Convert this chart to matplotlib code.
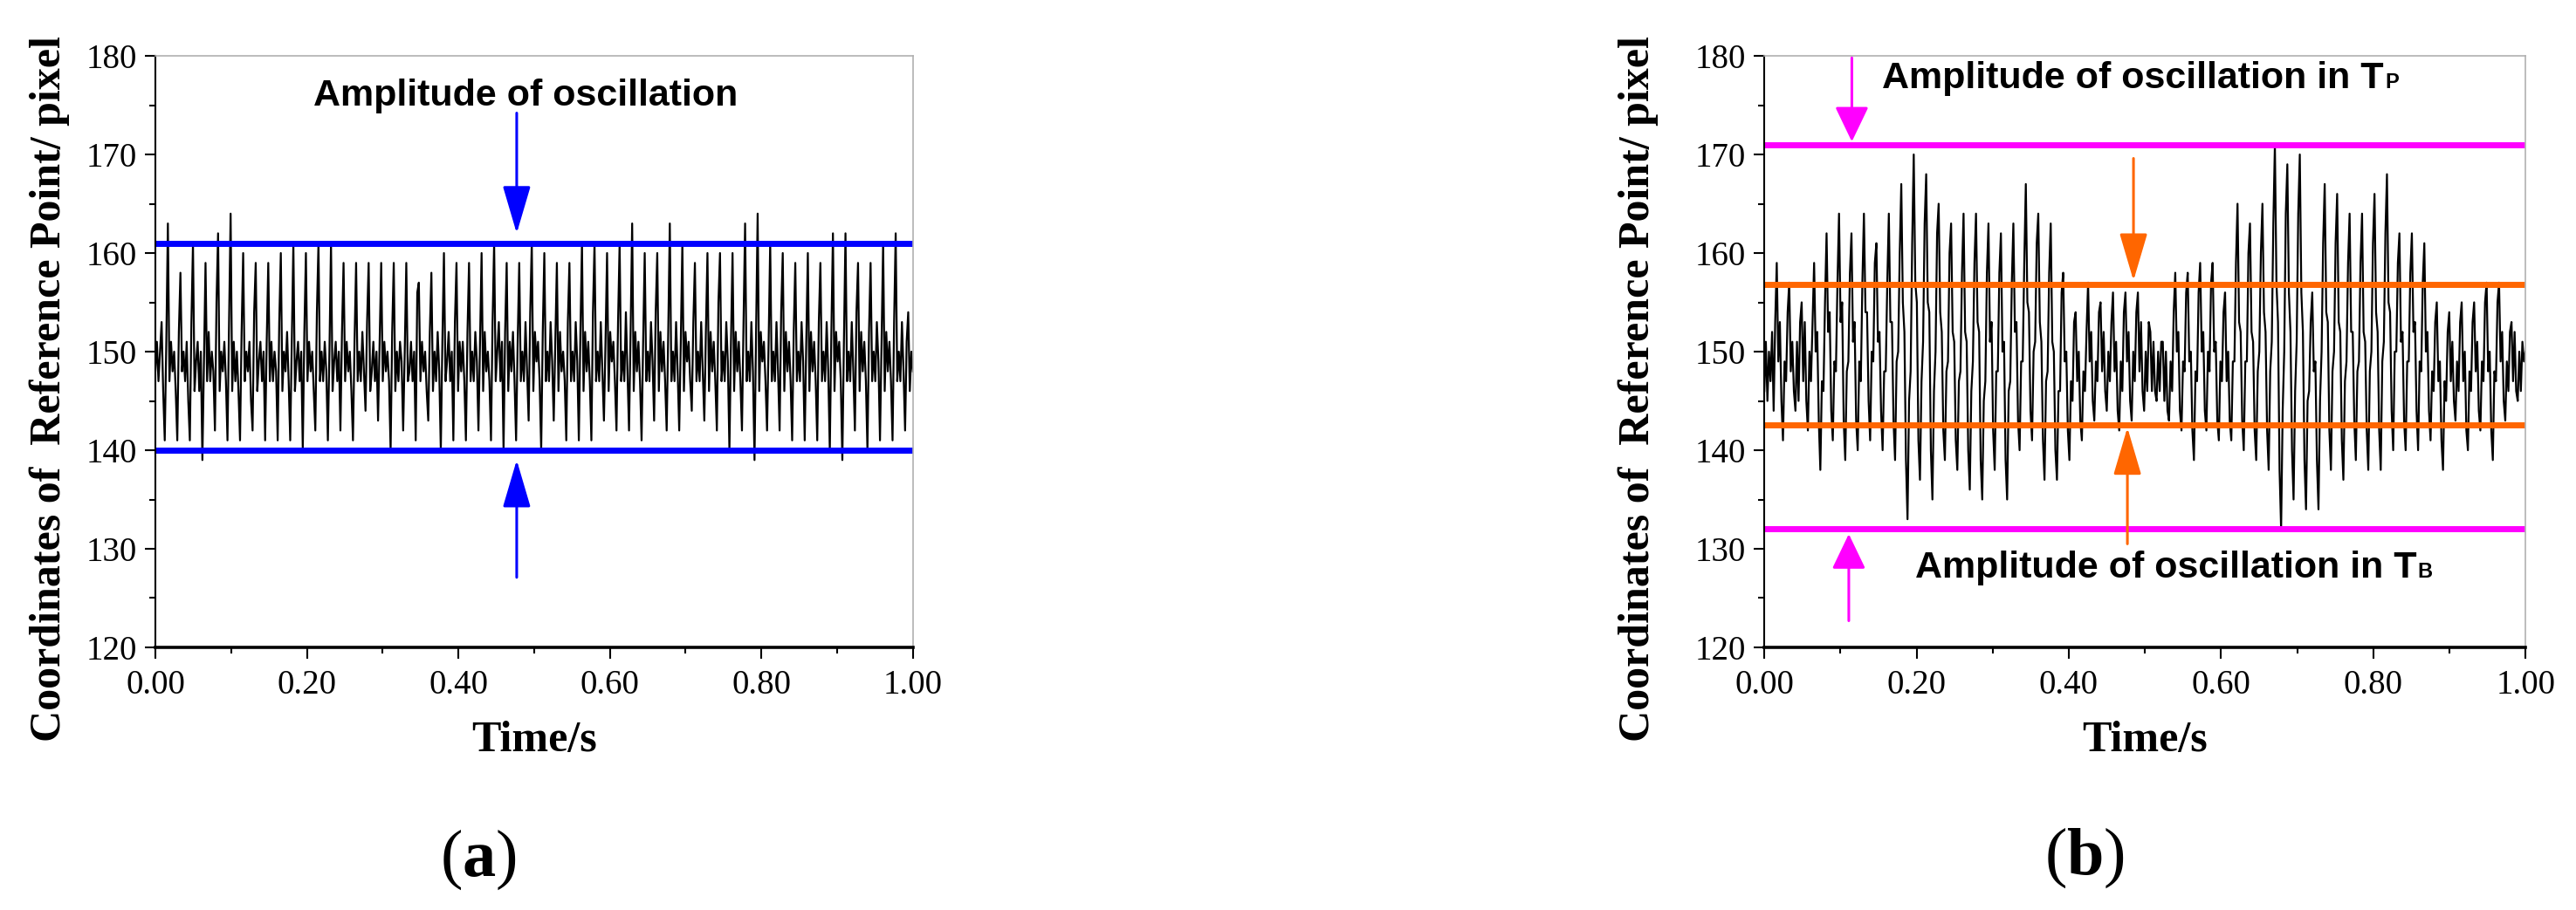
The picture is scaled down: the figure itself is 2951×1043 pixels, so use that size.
import numpy as np
import matplotlib
matplotlib.use('Agg')
import matplotlib.pyplot as plt
from matplotlib import font_manager
from matplotlib.ticker import MultipleLocator, FormatStrFormatter

plt.rcParams['mathtext.fontset'] = 'custom'
plt.rcParams['mathtext.rm'] = 'Liberation Serif'
plt.rcParams['mathtext.bf'] = 'Liberation Serif:bold'

# (a) reference point coordinate, pixel values
pos_a = [148, 151,
    147, 150, 153, 146, 141, 151, 163, 147,
    151, 148, 150, 146, 141, 152, 158, 148,
    150, 147, 151, 145, 141, 153, 161, 146,
    149, 151, 146, 150, 139, 149, 159, 147,
    152, 147, 150, 148, 142, 155, 162, 146,
    150, 148, 151, 147, 141, 153, 164, 146,
    151, 147, 150, 146, 141, 152, 160, 147,
    150, 148, 151, 145, 142, 154, 159, 146,
    149, 151, 147, 150, 141, 151, 159, 147,
    151, 147, 150, 148, 141, 153, 160, 146,
    150, 148, 152, 147, 141, 151, 161, 146,
    149, 151, 147, 150, 140, 152, 160, 147,
    151, 148, 150, 146, 142, 154, 161, 147,
    150, 147, 151, 148, 141, 150, 161, 146,
    149, 151, 147, 150, 142, 152, 159, 147,
    151, 148, 150, 146, 141, 151, 159, 147,
    150, 147, 152, 148, 144, 153, 159, 146,
    148, 151, 147, 150, 143, 151, 159, 147,
    151, 148, 150, 147, 140, 152, 159, 146,
    150, 147, 151, 149, 142, 150, 159, 147,
    148, 151, 147, 150, 141, 156, 157, 147,
    151, 148, 150, 146, 143, 152, 158, 146,
    150, 147, 152, 148, 140, 151, 160, 147,
    149, 152, 147, 150, 141, 153, 159, 146,
    151, 148, 151, 147, 141, 152, 159, 147,
    150, 147, 152, 149, 142, 151, 160, 146,
    152, 148, 150, 147, 141, 153, 161, 147,
    150, 153, 147, 151, 140, 152, 159, 146,
    151, 148, 152, 147, 141, 151, 159, 147,
    150, 147, 153, 148, 143, 154, 161, 146,
    152, 149, 151, 147, 140, 152, 160, 147,
    150, 147, 153, 149, 143, 151, 159, 146,
    152, 148, 150, 147, 141, 153, 159, 147,
    150, 147, 153, 149, 141, 152, 161, 146,
    152, 148, 151, 147, 141, 154, 161, 147,
    150, 147, 153, 148, 143, 151, 160, 146,
    152, 149, 151, 147, 142, 153, 161, 147,
    150, 147, 154, 148, 142, 152, 163, 146,
    152, 148, 151, 147, 141, 151, 160, 147,
    150, 147, 153, 149, 143, 154, 160, 146,
    152, 148, 151, 147, 142, 152, 163, 147,
    150, 147, 153, 148, 142, 151, 161, 146,
    152, 149, 151, 147, 144, 153, 159, 147,
    150, 147, 153, 148, 143, 152, 160, 146,
    152, 148, 151, 147, 142, 155, 160, 147,
    150, 147, 153, 149, 140, 151, 160, 146,
    152, 148, 151, 147, 142, 153, 163, 147,
    150, 147, 153, 148, 139, 152, 164, 146,
    152, 149, 151, 147, 142, 151, 161, 147,
    150, 147, 153, 148, 142, 154, 160, 146,
    152, 148, 151, 147, 141, 152, 159, 147,
    150, 147, 153, 149, 141, 151, 160, 146,
    152, 148, 151, 147, 141, 153, 159, 147,
    150, 147, 153, 148, 140, 152, 162, 146,
    152, 149, 151, 147, 139, 151, 162, 147,
    150, 147, 153, 148, 142, 154, 159, 146,
    152, 148, 151, 147, 140, 152, 159, 147,
    150, 147, 153, 149, 141, 151, 161, 146,
    152, 148, 151, 147, 141, 153, 162, 147,
    150, 147, 153, 148, 142, 151, 154, 146,
    150, 148]

# (b) reference point coordinate
pos_b = [146, 151, 145, 150, 147, 152, 144, 153,
    159, 149, 153, 145, 141, 149, 147, 154,
    157, 148, 151, 146, 144, 151, 145, 153,
    155, 147, 153, 145, 142, 150, 147, 153,
    159, 150, 152, 143, 138, 147, 146, 155,
    162, 152, 154, 144, 141, 149, 148, 157,
    164, 153, 155, 143, 139, 148, 149, 158,
    162, 151, 153, 143, 140, 149, 147, 157,
    164, 154, 154, 145, 141, 150, 149, 159,
    161, 151, 152, 144, 140, 148, 148, 157,
    164, 153, 153, 143, 139, 149, 150, 160,
    167, 155, 152, 139, 133, 145, 148, 161,
    170, 157, 155, 141, 137, 147, 151, 163,
    168, 155, 154, 140, 135, 146, 150, 162,
    165, 154, 152, 142, 139, 148, 149, 160,
    163, 152, 151, 141, 138, 147, 148, 158,
    164, 152, 151, 140, 136, 146, 149, 159,
    164, 153, 152, 139, 135, 145, 147, 158,
    163, 151, 153, 142, 138, 148, 148, 158,
    162, 150, 151, 139, 135, 146, 147, 157,
    163, 152, 153, 143, 140, 149, 149, 159,
    167, 155, 154, 144, 141, 150, 151, 161,
    164, 153, 151, 141, 137, 147, 148, 158,
    163, 151, 150, 140, 137, 146, 146, 156,
    158, 149, 150, 142, 139, 147, 145, 153,
    154, 147, 150, 143, 141, 148, 146, 152,
    157, 149, 152, 145, 143, 149, 147, 154,
    155, 148, 152, 146, 144, 150, 147, 153,
    156, 148, 151, 144, 142, 149, 146, 154,
    156, 149, 152, 145, 143, 150, 147, 154,
    156, 148, 153, 146, 144, 150, 146, 153,
    152, 146, 151, 146, 145, 150, 146, 151,
    151, 145, 150, 144, 143, 149, 146, 154,
    158, 150, 152, 144, 142, 149, 148, 156,
    158, 149, 150, 142, 139, 148, 147, 156,
    159, 150, 152, 144, 142, 150, 148, 157,
    159, 150, 151, 143, 141, 149, 147, 154,
    156, 147, 150, 143, 141, 149, 149, 159,
    165, 153, 152, 143, 140, 149, 149, 160,
    163, 152, 151, 142, 139, 148, 150, 160,
    165, 154, 152, 142, 138, 148, 151, 163,
    171, 157, 153, 138, 132, 144, 150, 164,
    169, 156, 152, 140, 135, 146, 151, 164,
    170, 156, 152, 139, 134, 145, 146, 153,
    156, 148, 149, 139, 134, 145, 150, 161,
    167, 154, 153, 142, 138, 148, 150, 161,
    166, 153, 152, 141, 137, 147, 149, 159,
    164, 152, 152, 143, 139, 148, 149, 159,
    164, 152, 151, 142, 138, 148, 150, 161,
    166, 154, 152, 142, 138, 149, 151, 162,
    168, 155, 154, 144, 140, 150, 150, 159,
    162, 151, 152, 143, 140, 149, 149, 158,
    162, 152, 153, 144, 140, 149, 148, 157,
    161, 150, 152, 144, 141, 148, 146, 153,
    155, 147, 149, 141, 138, 147, 145, 152,
    154, 147, 151, 145, 143, 149, 146, 153,
    155, 147, 150, 142, 140, 148, 146, 153,
    155, 148, 151, 144, 142, 149, 147, 155,
    157, 148, 150, 142, 139, 148, 147, 155,
    157, 149, 152, 145, 143, 149, 146, 152,
    153, 147, 152, 146, 145, 150, 146, 151,
    149, 150]

# reference levels
lines_a = [161, 140]
lines_b_outer = [171, 132]
lines_b_inner = [156.8, 142.6]

t_a = np.linspace(0, 1, len(pos_a))
t_b = np.linspace(0, 1, len(pos_b))

serif = 'Liberation Serif'
installed = {f.name for f in font_manager.fontManager.ttflist}
if 'Liberation Sans Narrow' in installed:
    sans, note_size, sub_size = 'Liberation Sans Narrow', 37, 20
else:
    sans, note_size, sub_size = 'Liberation Sans', 31, 17


def style_axes(ax):
    ax.set_xlim(0, 1)
    ax.set_ylim(120, 180)
    ax.xaxis.set_major_locator(MultipleLocator(0.2))
    ax.xaxis.set_minor_locator(MultipleLocator(0.1))
    ax.yaxis.set_major_locator(MultipleLocator(10))
    ax.yaxis.set_minor_locator(MultipleLocator(5))
    ax.xaxis.set_major_formatter(FormatStrFormatter('%.2f'))
    ax.tick_params(which='both', direction='out', top=False, right=False, width=1.5)
    ax.tick_params(which='major', length=9)
    ax.tick_params(which='minor', length=5)
    ax.tick_params(axis='x', pad=9)
    ax.tick_params(axis='y', pad=6)
    for lab in ax.get_xticklabels() + ax.get_yticklabels():
        lab.set_fontfamily(serif)
        lab.set_fontsize(28)
    ax.spines['top'].set_color('#b0b0b0')
    ax.spines['right'].set_color('#b0b0b0')
    ax.spines['top'].set_linewidth(1.2)
    ax.spines['right'].set_linewidth(1.2)
    ax.spines['left'].set_linewidth(1.5)
    ax.spines['bottom'].set_linewidth(2.6)
    ax.set_xlabel('Time/s', fontfamily=serif, fontweight='bold', fontsize=36, labelpad=16)


def arrow(ax, tip, tail, color, hl, hw):
    ax.annotate('', xy=tip, xytext=tail,
                arrowprops=dict(arrowstyle='-|>,head_length=%s,head_width=%s' % (hl, hw),
                                color=color, lw=2.2, mutation_scale=20,
                                shrinkA=0, shrinkB=0))


def note(ax, x, y, sub):
    t = ax.text(x, y, 'Amplitude of oscillation in T', ha='left', va='baseline',
                fontfamily=sans, fontweight='bold', fontsize=note_size)
    ax.annotate(sub, xy=(1, 0), xycoords=t, xytext=(1, 3), textcoords='offset points',
                ha='left', va='bottom', fontfamily=sans, fontweight='bold', fontsize=sub_size)


fig = plt.figure(figsize=(29.51, 10.43), dpi=100)

#%% panel (a)
ax1 = fig.add_axes([0.0603, 0.2886, 0.2941, 0.65])
ax1.plot(t_a, pos_a, color='black', lw=1.6)
for lv in lines_a:
    ax1.axhline(lv, color='#0000ff', lw=5)
arrow(ax1, (0.477, 162.0), (0.477, 174.2), '#0000ff', 1.7, 0.5)
arrow(ax1, (0.477, 139.0), (0.477, 127.1), '#0000ff', 1.7, 0.5)
ax1.text(0.489, 175.0, 'Amplitude of oscillation', ha='center', va='baseline',
         fontfamily=sans, fontweight='bold', fontsize=note_size)
style_axes(ax1)

#%% panel (b)
ax2 = fig.add_axes([0.6849, 0.2886, 0.2955, 0.65])
ax2.plot(t_b, pos_b, color='black', lw=1.6)
for lv in lines_b_outer:
    ax2.axhline(lv, color='#ff00ff', lw=5)
for lv in lines_b_inner:
    ax2.axhline(lv, color='#ff6600', lw=5)
arrow(ax2, (0.115, 171.3), (0.115, 179.8), '#ff00ff', 1.25, 0.6)
arrow(ax2, (0.111, 131.5), (0.111, 122.7), '#ff00ff', 1.25, 0.6)
arrow(ax2, (0.485, 157.2), (0.485, 169.6), '#ff6600', 1.7, 0.5)
arrow(ax2, (0.477, 142.3), (0.477, 130.5), '#ff6600', 1.7, 0.5)
note(ax2, 0.155, 176.75, 'P')
note(ax2, 0.198, 127.1, 'B')
style_axes(ax2)

ylab = 'Coordinates of  Reference Point/ pixel'
fig.text(0.0193, 0.573, ylab, rotation=90, ha='center', va='center',
         fontfamily=serif, fontweight='bold', fontsize=36)
fig.text(0.636, 0.573, ylab, rotation=90, ha='center', va='center',
         fontfamily=serif, fontweight='bold', fontsize=36)

fig.text(0.1857, 0.0556, r'($\mathbf{a}$)', ha='center', va='center',
         fontfamily=serif, fontsize=55)
fig.text(0.8092, 0.0575, r'($\mathbf{b}$)', ha='center', va='center',
         fontfamily=serif, fontsize=55)

plt.savefig('out.png', dpi=100)
